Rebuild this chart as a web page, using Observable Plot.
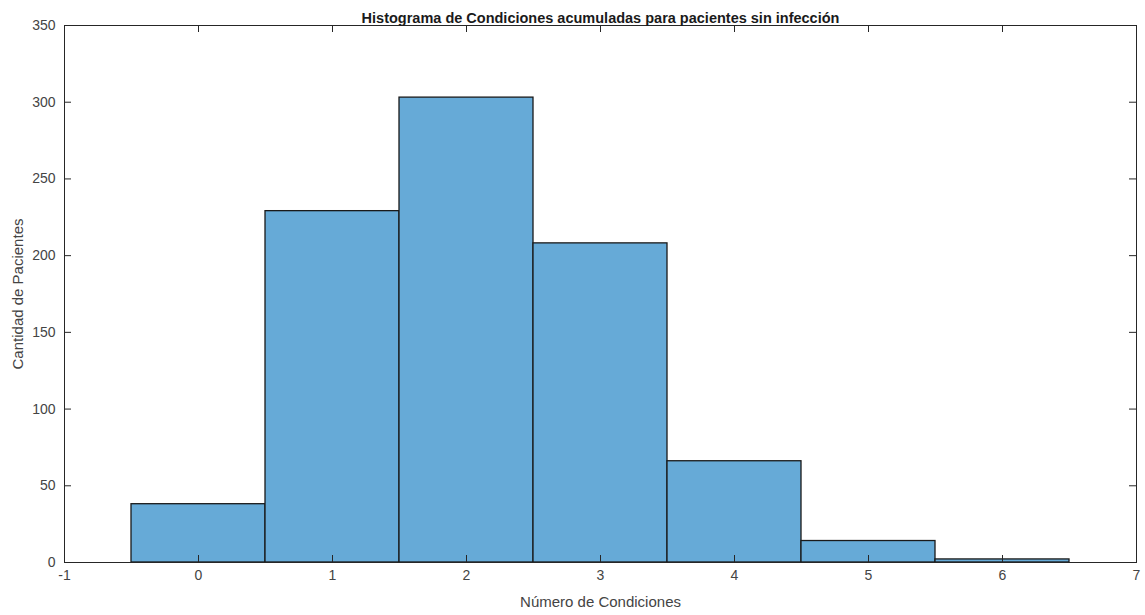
<!DOCTYPE html>
<html>
<head>
<meta charset="utf-8">
<script src="https://cdn.jsdelivr.net/npm/d3@7"></script>
<script src="https://cdn.jsdelivr.net/npm/@observablehq/plot@0.6"></script>
<style>
  html, body { margin: 0; padding: 0; background: #fff; }
  svg { display: block; }
</style>
</head>
<body>
<div id="chart"></div>
<script>
const titleText = "Histograma de Condiciones acumuladas para pacientes sin infección";
const xLabel = "Número de Condiciones";
const yLabel = "Cantidad de Pacientes";
const conditions = [0, 1, 2, 3, 4, 5, 6];
const counts = [38, 229, 303, 208, 66, 14, 2];
const xTicks = [-1, 0, 1, 2, 3, 4, 5, 6, 7];
const yTicks = [0, 50, 100, 150, 200, 250, 300, 350];

const W = 1145, H = 615;
const mL = 64, mR = 9, mT = 25, mB = 53;
const plotW = W - mL - mR, plotH = H - mT - mB;
const tickLen = 7;
const axisColor = "#262626";
const textColor = "#444";

const bins = conditions.map((c, i) => ({c, n: counts[i]}));

const chart = Plot.plot({
  width: W,
  height: H,
  marginLeft: mL,
  marginRight: mR,
  marginTop: mT,
  marginBottom: mB,
  style: {fontFamily: "'Liberation Sans', Arial, sans-serif", fontSize: "14px", color: textColor, background: "#fff"},
  x: {domain: [-1, 7]},
  y: {domain: [0, 350]},
  marks: [
    Plot.rectY(bins, {x1: d => d.c - 0.5, x2: d => d.c + 0.5, y: "n", fill: "#66AAD7", stroke: "#1a1a1a", strokeWidth: 1.3}),
    // inward ticks
    Plot.ruleX(xTicks, {x: d => d, insetTop: plotH - tickLen, stroke: axisColor}),
    Plot.ruleX(xTicks, {x: d => d, insetBottom: plotH - tickLen, stroke: axisColor}),
    Plot.ruleY(yTicks, {y: d => d, insetRight: plotW - tickLen, stroke: axisColor}),
    Plot.ruleY(yTicks, {y: d => d, insetLeft: plotW - tickLen, stroke: axisColor}),
    Plot.frame({stroke: axisColor, strokeWidth: 1}),
    Plot.axisX(xTicks, {tickSize: 0, tickPadding: 8, label: null, fontSize: 14, fill: textColor, tickFormat: d => String(d)}),
    Plot.axisY(yTicks, {tickSize: 0, tickPadding: 9, label: null, fontSize: 14, fill: textColor, tickFormat: d => String(d)}),
    Plot.text([xLabel], {frameAnchor: "bottom", dy: 44, fontSize: 15, fill: textColor}),
    Plot.text([yLabel], {frameAnchor: "left", textAnchor: "middle", dx: -46, rotate: -90, fontSize: 15, fill: textColor}),
    Plot.text([titleText], {frameAnchor: "top", dy: -13, fontSize: 14.5, fontWeight: "bold", fill: "#1a1a1a"})
  ]
});
document.getElementById("chart").appendChild(chart);
</script>
</body>
</html>
